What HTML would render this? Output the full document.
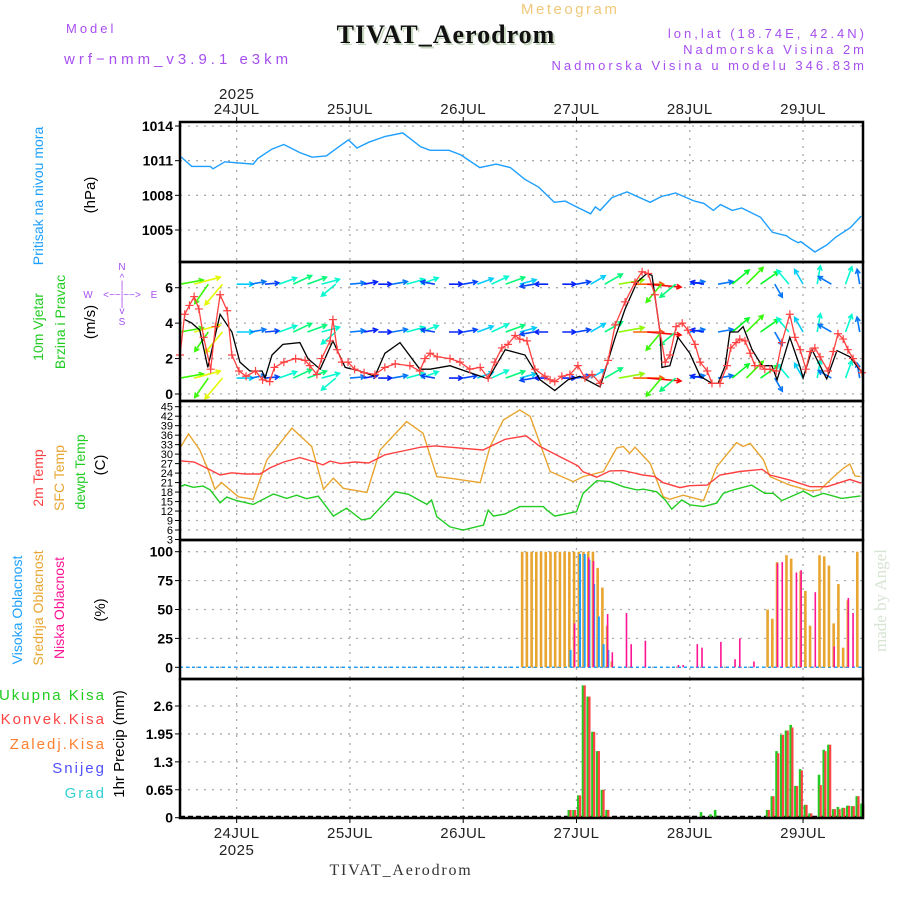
<!DOCTYPE html>
<html><head><meta charset="utf-8">
<style>
html,body{margin:0;padding:0;background:#fff;}
svg{display:block;font-family:"Liberation Sans",sans-serif;}
.hd{font-family:"Liberation Sans",sans-serif;fill:#a64ff0;font-size:13px;letter-spacing:3px;}
.tk{font-size:13px;fill:#000;text-anchor:end;}
.dt{font-size:15px;fill:#222;text-anchor:middle;letter-spacing:0.5px;}
</style></head>
<body>
<svg id="chart" width="900" height="900" viewBox="0 0 900 900" xmlns="http://www.w3.org/2000/svg">
<text class="hd" x="66" y="33">Model</text>
<text class="hd" x="64" y="64" style="font-size:15px;letter-spacing:4px">wrf−nmm_v3.9.1 e3km</text>
<text x="521" y="14" style="font-size:15px;fill:#f0c878;letter-spacing:2.5px">Meteogram</text>
<text x="448" y="45" text-anchor="middle" style="font-family:'Liberation Serif',serif;font-weight:bold;font-size:26px;letter-spacing:1px;fill:#c8d8c0">TIVAT_Aerodrom</text>
<text x="446" y="43" text-anchor="middle" style="font-family:'Liberation Serif',serif;font-weight:bold;font-size:26px;letter-spacing:1px;fill:#111">TIVAT_Aerodrom</text>
<text class="hd" x="867" y="38" text-anchor="end">lon,lat (18.74E, 42.4N)</text>
<text class="hd" x="867" y="54" text-anchor="end">Nadmorska Visina 2m</text>
<text class="hd" x="867" y="70" text-anchor="end">Nadmorska Visina u modelu 346.83m</text>
<text x="401" y="875" text-anchor="middle" style="font-family:'Liberation Serif',serif;font-size:16px;fill:#333;letter-spacing:1.8px">TIVAT_Aerodrom</text>
<text transform="translate(886,652) rotate(-90)" style="font-family:'Liberation Serif',serif;font-size:17px;fill:#d8e4d4">made by Angel</text>
<g id="g"></g>
</svg>
<script>
// ---- data ----
const days = ["24JUL","25JUL","26JUL","27JUL","28JUL","29JUL"];
const presHours = [0,2.5,6.4,7,9.5,15.5,16.5,19.5,22,25.4,28,31,34,35.7,37.5,40,43.5,47.2,51,53,57,59.5,63.5,67,70,73,76,79.3,81.6,84,87,88,89,91.5,94.7,99.6,102,105,109,111,113,114.5,117,119,123,125.5,128.5,129.5,131,131.5,134.5,137,139,142,144.3];
const presVals = [1011.4,1010.5,1010.5,1010.3,1010.9,1010.7,1011.2,1012,1012.4,1011.7,1011.3,1011.4,1012.3,1012.8,1012.1,1012.6,1013.1,1013.4,1012.2,1011.9,1011.9,1011.5,1010.4,1010.7,1010.4,1009.4,1008.7,1007.4,1007.5,1007,1006.4,1007,1006.7,1007.8,1008.3,1007.4,1007.9,1008.2,1007.5,1007.3,1006.7,1007.2,1006.7,1006.9,1006.1,1004.8,1004.5,1004.2,1003.9,1004.0,1003.1,1003.7,1004.4,1005.2,1006.2];
const presTicks = [1005,1008,1011,1014];

const windHours = [1,2.5,4.2,5.9,8.5,11,12.7,14.8,17.4,18,19.5,21.8,25.4,27.1,29.7,32.4,35,38.1,41.3,43.4,46.6,50.8,53,57.2,60.4,65.3,68.9,73.1,76.3,79.4,82.2,84.7,89,92.2,94.3,96.8,98.9,100,101.7,102.1,103.8,105.5,108,110.2,112.7,114,115.5,116.5,118.2,119.3,121.2,123.3,125.4,126.5,129.2,131.4,132,133.9,137,139.2,141.9,144.5];
const windSpeed = [4.2,4.0,3.6,1.5,4.5,3.5,1.8,1.3,1.3,0.9,2.2,2.8,2.9,2.0,1.4,3.0,1.5,1.3,1.0,2.3,2.9,1.4,1.4,1.6,1.3,0.85,2.5,2.2,0.8,0.2,0.8,1.0,0.4,3.2,4.8,6.3,6.8,6.7,3.5,1.5,1.6,3.2,2.3,1.0,0.6,0.6,1.6,3.5,3.5,3.8,2.5,1.6,1.6,0.8,3.2,1.5,0.9,2.5,0.85,2.45,2.1,1.2];
const gustHours = [0,1,2,3,4,5,6.5,7.5,8.5,10,11,12.5,14,16,17.5,19,20,22,24.5,26.5,27.5,29,30,31.8,32.4,33.3,34.3,35.6,37,39,41.3,43.4,45.6,48.7,50.8,51.9,53,54.5,57.2,59.3,61.4,63.6,65.3,66.7,68.2,69.5,71,72,73.5,75.2,77.3,78.4,79.4,80.9,82.6,84.3,85.8,87.3,89,90.7,92.2,94.3,96.4,97.9,99.2,100.6,101.7,102.8,103.8,105.1,106.4,107.6,109.1,110.2,111.7,112.7,114.4,115.9,116.7,117.8,118.6,119.7,120.8,121.8,122.9,123.9,125,126.3,127.5,129.2,130.3,131.4,132.6,133.5,134.5,135.6,137.3,138.4,139.4,140.5,141.5,142.6,144.5];
const gustSpeed = [2.2,4.5,5.0,5.5,4.8,3.2,1.4,3.8,5.6,4.7,2.2,1.3,1.0,1.3,0.8,0.7,1.5,1.8,2.0,1.9,1.6,1.1,2.0,3.0,4.2,2.5,1.8,1.8,1.4,1.2,1.1,1.5,1.7,1.6,1.3,2.0,2.3,2.1,2.0,1.8,1.4,1.5,0.9,1.8,2.6,2.8,3.3,3.1,3.0,1.4,1.0,0.8,0.7,1.0,1.1,1.6,0.9,1.1,0.6,1.9,3.9,5.2,6.3,6.9,6.8,5.6,3.5,1.8,2.2,3.8,4.0,3.6,2.8,1.8,1.3,0.6,0.6,1.6,2.6,2.9,3.1,3.0,2.3,1.6,1.6,1.4,1.4,1.3,2.9,4.5,3.2,2.5,1.4,2.4,2.6,2.1,1.3,2.4,3.4,3.1,2.5,2.0,1.2];
const vecHours = [0,3,6,9,12,15,18,21,24,27,30,33,36,39,42,45,48,51,54,57,60,63,66,69,72,75,78,81,84,87,90,93,96,99,102,105,108,111,114,117,120,123,126,129,132,135,138,141,144];
const vecDir = [10,15,235,230,0,10,5,20,25,20,15,220,5,10,0,10,15,20,170,0,10,20,25,20,15,190,180,0,10,30,30,10,0,355,230,220,10,170,10,40,45,35,300,130,120,80,150,70,100];
const vecSpeed = [4,5,4,5,2,1.5,1.2,2.5,3,3,2.5,2.5,1.5,1,1,1.5,2.5,2.5,1.2,1,1.2,2,2.5,3,2,1.2,1,1,1.2,2,3,4.5,6,7,4,3,1.5,1,1.5,3.5,4,3.5,1.5,2.5,2,2.5,1.5,2.5,1.5];
const vecLevels = [6.2,3.5,0.9];
const windTicks = [0,2,4,6];

const t2Hours = [0,3,6.4,8.5,11,13.8,17,19,22,25.4,28.6,30.3,31.8,34,37,40,43.4,47.2,51,54,57.2,64.2,68.9,73.3,76.3,80.5,84.3,85.4,88.3,91.1,93.9,98.1,100.6,102.3,105.9,108,111.7,114.4,118.6,123.3,125,129.2,133.5,137.1,141.9,144.3];
const t2Vals = [27.9,27.5,25,23.4,24.1,23.7,23.7,25.6,27.5,28.9,27.5,26.6,27.8,27,27.5,27.2,29.8,31,32.2,32.6,32.2,31.3,34.7,35.8,32.4,29.2,26.3,24.4,22.7,24.7,24.8,23.4,22.9,21,19.4,20,20.2,23.4,24.5,25.2,23.4,21.8,19.7,19.7,22,20.8];
const sfcHours = [0,1.8,4.2,6,7.4,8.8,12.4,15.5,18.4,23.7,27.9,30.4,32.5,34.6,39.6,42.4,48,51.5,54.4,57.2,63.6,65.7,68.5,72,74.2,78.4,83.3,85.4,89.7,92.5,93.9,95.3,96.4,99.6,102.4,103.8,106.6,110.9,113.7,117.9,119.3,120.8,123.6,125,129.2,133.5,135.6,137.7,140.5,141.9,143,144.2];
const sfcVals = [31.9,36.4,31.3,24.9,18.9,21,16.5,15.7,28.2,38.2,32.4,18.9,22.4,19.2,17.9,31.3,40.3,36.6,22.9,22.4,21,32.4,40.8,44,41.9,24.5,21.3,22.9,24.5,31.9,32.4,30.3,32.2,27.1,16.5,15.7,17,15.3,26,33.6,32.4,33.4,28.2,22.9,20.2,18.4,18.7,21.8,25.5,26.9,23.1,22.9];
const tdHours = [0,1,2.8,4.9,6.4,8.5,9.9,12,15.5,19.8,22.6,24.7,26.8,29.3,32.5,35.3,38.5,40.3,45.6,48.4,52.3,53.3,54.4,57.2,60,64.3,65.3,66.4,68.9,72,77,77.7,79.4,84,85.4,88.3,91.1,93.9,96.8,98.2,101,102.8,104.2,106.3,108.1,110.9,113.7,115.1,117.2,121.1,123.9,125.7,127.5,132.1,134.2,136.3,140.2,144.2];
const tdVals = [19.7,20.3,19.5,19.9,18.7,14.6,16.4,15.3,14.1,17.4,16,17,15.9,16.7,10.4,12.9,9.2,9.7,18.1,17.3,14.1,15.5,10.2,7,6,7.6,12.3,10.4,11.1,13.4,13.4,12.3,10.4,11.8,17.6,21.6,21.3,19.7,18.7,18.9,18.1,15.5,12.6,15.5,13.9,13.4,14.5,17.6,18.7,20.2,17.6,17.6,15.3,18.3,16.5,17.6,16,16.8];
const tempTicks = [3,6,9,12,15,18,21,24,27,30,33,36,39,42,45];

const midHours = [72,73,74,75,76,77,78,79,80,81,82,83,84,85,86,87,88,89,90,91,124,125,126,128,129,131,132,133,135,136,137,138,139,140,141,143];
const midVals = [100,100,100,100,100,100,100,100,100,100,100,100,100,100,100,100,86,69,36,5,50,42,91,97,94,83,66,36,97,96,88,38,72,17,58,100];
const highHours = [82,84,85,86,87,88,89,90];
const highVals = [15,98,98,93,72,44,20,15];
const lowHours = [83,86,87,90,91,94,95,98,105,106,109,110,114,117,118,121,126,127,130,131,134,138,141,142];
const lowVals = [38,95,92,46,13,47,20,23,2,2,20,17,22,7,25,5,90,91,82,84,65,18,60,47];
const cloudTicks = [0,25,50,75,100];

const rainHours = [82,83,84,85,86,87,88,89,90,110,112,113,124,125,126,127,128,129,130,131,132,133,135,136,137,138,139,140,141,142,143,144];
const totalRain = [0.18,0.18,0.52,3.08,2.82,2.0,1.55,0.65,0.18,0.13,0.08,0.18,0.18,0.5,1.55,1.93,2.03,2.16,0.74,1.13,0.3,0.1,1.0,1.58,1.7,0.2,0.25,0.23,0.28,0.27,0.5,0.33];
const convRain = [0.18,0.18,0.52,3.08,2.82,2.0,1.55,0.65,0.18,0,0,0,0.18,0.5,1.5,1.93,2.03,2.1,0.74,1.1,0.3,0.1,0.76,1.55,1.7,0.2,0.2,0.23,0.28,0.27,0.5,0.33];
const rainTicks = [0,0.65,1.3,1.95,2.6];

// ---- scales ----
const X0=180,X1=863,TMAX=144.7;
function xs(t){return X0+t*(X1-X0)/TMAX;}
function lin(d0,d1,r0,r1){return v=>r0+(v-d0)*(r1-r0)/(d1-d0);}
const yP=lin(1005,1014,230,126);
const yW=lin(0,6,394,287.7);
const yT=lin(3,45,539.5,406.7);
const yC=lin(0,100,667.3,551.7);
const yR=lin(0,2.6,817.7,706);
const panels=[[122,262],[262,401],[401,540],[540,679],[679,818]];

const NS="http://www.w3.org/2000/svg";
const G=document.getElementById('g');
function mk(tag,at,parent){const e=document.createElementNS(NS,tag);for(const k in at)e.setAttribute(k,at[k]);(parent||G).appendChild(e);return e;}
function txt(s,at,parent){const e=mk('text',at,parent);e.textContent=s;return e;}
function pathOf(hs,vs,ys){return hs.map((h,i)=>(i?'L':'M')+xs(h).toFixed(1)+','+ys(vs[i]).toFixed(1)).join('');}

// grid
const grid=mk('g',{stroke:'#aaa','stroke-width':1.3,'stroke-dasharray':'2,6'});


days.forEach((d,i)=>{const x=xs(12+24*i);panels.forEach(p=>{mk('line',{x1:x,x2:x,y1:p[0],y2:p[1]},grid);});});
function hgrid(ticks,ys){ticks.forEach(v=>mk('line',{x1:X0,x2:X1,y1:ys(v),y2:ys(v)},grid));}
hgrid(presTicks,yP);hgrid(windTicks,yW);hgrid(tempTicks,yT);hgrid(cloudTicks,yC);hgrid(rainTicks.slice(1),yR);

// tick labels
function ticks(arr,ys,name,fs){const g=mk('g',{});


arr.forEach(v=>{const y=ys(v);txt(String(v),{class:'tk',x:173,y:y+fs*0.36,style:'font-size:'+fs+'px;font-weight:'+(fs>12?'bold':'normal')},g);mk('line',{x1:175,x2:180,y1:y,y2:y,stroke:'#000'},g);});}
ticks(presTicks,yP,'pressure-y-ticks',14);
ticks(windTicks,yW,'wind-y-ticks',14);
ticks(tempTicks,yT,'temp-y-ticks',11);
ticks(cloudTicks,yC,'cloud-y-ticks',14);
ticks(rainTicks,yR,'precip-y-ticks',14);

// date labels
const dl=mk('g',{});


days.forEach((d,i)=>{const x=xs(12+24*i);txt(d,{class:'dt',x:x,y:114},dl);txt(d,{class:'dt',x:x,y:838},dl);
mk('line',{x1:x,x2:x,y1:117,y2:122,stroke:'#000'},dl);mk('line',{x1:x,x2:x,y1:818,y2:823,stroke:'#000'},dl);});
txt('2025',{class:'dt',x:xs(12),y:99},dl);txt('2025',{class:'dt',x:xs(12),y:855},dl);

// pressure
const pl=mk('path',{d:pathOf(presHours,presVals,yP),fill:'none',stroke:'#1e9fff','stroke-width':1.4});



// wind vectors
const vg=mk('g',{'stroke-width':1.6,fill:'none'});


vecLevels.forEach(lv=>{vecHours.forEach((h,i)=>{const x=xs(h),y=yW(lv);const a=vecDir[i]*Math.PI/180,L=10+vecSpeed[i]*3.4;
const tx=x+L*Math.cos(a),ty=y-L*Math.sin(a);const hue=Math.max(0,275-vecSpeed[i]*42);
const c='hsl('+hue+',95%,50%)';const b=a+Math.PI;
const p=mk('path',{d:'M'+x+','+y+'L'+tx+','+ty+'M'+(tx+5*Math.cos(b+0.5))+','+(ty-5*Math.sin(b+0.5))+'L'+tx+','+ty+'L'+(tx+5*Math.cos(b-0.5))+','+(ty-5*Math.sin(b-0.5)),stroke:c},vg);

});});

const wl=mk('path',{d:pathOf(windHours,windSpeed,yW),fill:'none',stroke:'#000','stroke-width':1.3});


const gl=mk('path',{d:pathOf(gustHours,gustSpeed,yW),fill:'none',stroke:'#ff4040','stroke-width':1.3});


const gm=mk('g',{stroke:'#ff4040','stroke-width':1.2});


gustHours.forEach((h,i)=>{const x=xs(h),y=yW(gustSpeed[i]);mk('path',{d:'M'+(x-4)+','+y+'h8M'+x+','+(y-4)+'v8'},gm);});

// temperatures
[[sfcHours,sfcVals,'#e8a530','sfc-temp-line'],[t2Hours,t2Vals,'#ff4040','temp-2m-line'],[tdHours,tdVals,'#22cc22','dewpoint-line']].forEach(s=>{
const e=mk('path',{d:pathOf(s[0],s[1],yT),fill:'none',stroke:s[2],'stroke-width':1.4});

});

// clouds
const cb=mk('line',{x1:X0,x2:X1,y1:yC(0),y2:yC(0),stroke:'#1ea0ff','stroke-width':1.5,'stroke-dasharray':'3,3'});


function bars(hs,vs,ys,col,off,w,name){const g=mk('g',{fill:col});


hs.forEach((h,i)=>{if(!vs[i])return;const y=ys(vs[i]);const b=mk('rect',{x:xs(h)+off,y:y,width:w,height:ys(0)-y},g);

});}
bars(midHours,midVals,yC,'#e8a530',1,2.6,'mid-cloud');
bars(highHours,highVals,yC,'#1ea0ff',2.5,2,'high-cloud');
bars(lowHours,lowVals,yC,'#ff1493',2,1.6,'low-cloud');

// precip
const rb=mk('line',{x1:X0,x2:X1,y1:yR(0)-1,y2:yR(0)-1,stroke:'#000','stroke-width':2,'stroke-dasharray':'5,3'});


bars(rainHours,totalRain,yR,'#22cc22',0.5,2.6,'total-precip');
bars(rainHours,convRain,yR,'#ff4444',2.4,2.2,'convective-precip');

// panel frames
panels.forEach((p,i)=>{const r=mk('rect',{x:X0,y:p[0],width:X1-X0,height:p[1]-p[0],fill:'none',stroke:'#000','stroke-width':2.5});

});

// left labels
function vlab(s,x,y,col,name,fs){const e=txt(s,{transform:'translate('+x+','+y+') rotate(-90)','text-anchor':'middle',style:'font-size:'+(fs||14)+'px;fill:'+col});

}
vlab('Pritisak na nivou mora',43,196,'#1e9fff','pressure-axis-title');
vlab('(hPa)',95,195,'#000','pressure-unit',15);
vlab('10m Vjetar',43,327,'#22cc22','wind-title-1');
vlab('Brzina i Pravac',65,322,'#22cc22','wind-title-2');
vlab('(m/s)',95,322,'#000','wind-unit',15);
vlab('2m Temp',43,478,'#ff4040','temp-2m-title');
vlab('SFC Temp',64,478,'#e8a530','sfc-temp-title');
vlab('dewpt Temp',85,472,'#22cc22','dewpoint-title');
vlab('(C)',105,465,'#000','temp-unit',15);
vlab('Visoka Oblacnost',22,610,'#1ea0ff','high-cloud-title');
vlab('Srednja Oblacnost',43,608,'#e8a530','mid-cloud-title');
vlab('Niska Oblacnost',64,608,'#ff1493','low-cloud-title');
vlab('(%)',105,610,'#000','cloud-unit',15);
vlab('1hr Precip (mm)',124,744,'#000','precip-axis-title',15);
[['Ukupna  Kisa','#22cc22',700],['Konvek.Kisa','#ff4444',724],['Zaledj.Kisa','#ff8030',749],['Snijeg','#5050ff',773],['Grad','#30d0d0',798]].forEach(l=>{
const e=txt(l[0],{x:106,y:l[2],'text-anchor':'end',style:'font-size:15px;letter-spacing:2px;fill:'+l[1]});

});

// compass
const cp=mk('g',{style:'font-size:10px;fill:#a64ff0','text-anchor':'middle'});


txt('N',{x:122,y:270},cp);txt('^',{x:122,y:281},cp);txt('S',{x:122,y:325},cp);txt('v',{x:122,y:314},cp);
txt('W',{x:88,y:298},cp);txt('E',{x:154,y:298},cp);txt('<−−|−−>',{x:122,y:298},cp);txt('|',{x:122,y:288},cp);txt('|',{x:122,y:306},cp);
</script>
</body></html>
